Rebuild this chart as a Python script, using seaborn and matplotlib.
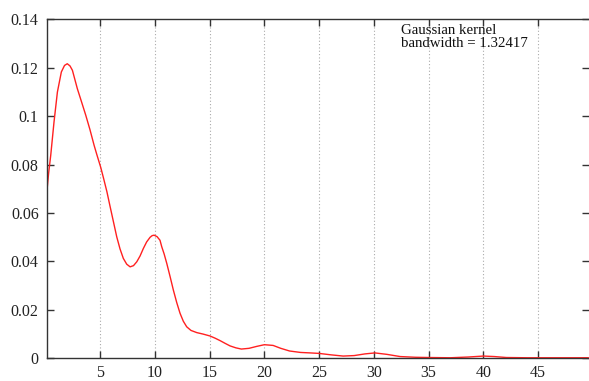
import matplotlib
matplotlib.use("Agg")
import matplotlib.pyplot as plt
import seaborn as sns
import pandas as pd

# density curve
x_vals = [0.15, 0.3, 0.49, 0.79, 1.10, 1.46, 1.75, 2.0, 2.25, 2.47, 2.92, 3.3, 3.69, 4.07, 4.45, 4.69, 5.06, 5.30, 5.62, 5.91, 6.22, 6.52, 6.82, 7.12, 7.43, 7.74, 8.05, 8.35, 8.65, 8.95, 9.25, 9.56, 9.75, 9.93, 10.2, 10.47, 10.63, 10.85, 11.09, 11.39, 11.69, 12.0, 12.30, 12.6, 12.91, 13.3, 13.83, 14.4, 15.04, 15.5, 15.95, 16.4, 16.87, 17.4, 17.9, 18.6, 19.3, 20.0, 20.8, 21.5, 22.3, 23.3, 24.2, 25.0, 26.1, 27.2, 28.2, 29.2, 30.1, 31.2, 32.4, 33.8, 35.0, 37.0, 38.6, 40.0, 41.0, 42.1, 44.0, 46.0, 47.0, 48.5, 49.6]
y_vals = [0.0694, 0.0765, 0.0838, 0.0976, 0.1100, 0.1183, 0.1210, 0.1217, 0.1208, 0.1190, 0.1114, 0.1060, 0.1004, 0.0945, 0.0880, 0.0843, 0.0788, 0.0746, 0.0688, 0.0627, 0.0563, 0.0501, 0.0451, 0.0412, 0.0388, 0.0377, 0.0382, 0.0398, 0.0422, 0.0453, 0.0480, 0.0499, 0.0506, 0.0508, 0.0502, 0.0487, 0.0460, 0.0430, 0.0391, 0.0337, 0.0281, 0.0229, 0.0185, 0.0152, 0.0129, 0.0114, 0.0105, 0.0099, 0.0091, 0.0082, 0.0072, 0.0061, 0.0050, 0.0042, 0.0037, 0.0040, 0.0048, 0.0055, 0.0052, 0.0040, 0.0029, 0.0023, 0.0021, 0.0019, 0.0013, 0.0008, 0.0010, 0.0017, 0.0021, 0.0015, 0.0006, 0.0003, 0.0002, 0.0001, 0.0004, 0.0008, 0.0006, 0.0002, 0.0001, 0.0001, 0.0001, 0.0001, 0.0001]

x_ticks = [5, 10, 15, 20, 25, 30, 35, 40, 45]
y_ticks = [0, 0.02, 0.04, 0.06, 0.08, 0.1, 0.12, 0.14]
y_tick_labels = ["0", "0.02", "0.04", "0.06", "0.08", "0.1", "0.12", "0.14"]
annotation_lines = ["Gaussian kernel", "bandwidth = 1.32417"]

sns.set_style("white")
plt.rcParams["font.family"] = ["Liberation Serif", "DejaVu Serif"]

fig = plt.figure(figsize=(5.89, 3.81), dpi=100)
ax = fig.add_axes([47 / 589, 1 - 358 / 381, 1 - 47 / 589, (358 - 19.5) / 381])

df = pd.DataFrame({"x": x_vals, "y": y_vals})
sns.lineplot(data=df, x="x", y="y", ax=ax, color="#ff2020", linewidth=1.0, sort=False)

ax.set_xlim(0.15, 49.65)
ax.set_ylim(0, 0.14)
ax.set_xticks(x_ticks)
ax.set_xticklabels([str(t) for t in x_ticks])
ax.set_yticks(y_ticks)
ax.set_yticklabels(y_tick_labels)
ax.set_xlabel("")
ax.set_ylabel("")

for t in x_ticks:
    ax.axvline(t, color="#aaaaaa", linestyle=(0, (1, 2)), linewidth=0.8, zorder=0)

for side in ["left", "top", "bottom"]:
    ax.spines[side].set_visible(True)
    ax.spines[side].set_color("#333333")
    ax.spines[side].set_linewidth(1.0)
ax.spines["right"].set_visible(False)

ax.tick_params(axis="both", direction="in", length=5, width=1.0, color="#333333",
               labelsize=11.5, labelcolor="#222222",
               top=True, right=True, bottom=True, left=True)
ax.tick_params(axis="x", pad=5)
ax.tick_params(axis="y", pad=6)

for i, line in enumerate(annotation_lines):
    ax.text(401, 381 - (33.5 + 13.5 * i), line, transform=None, fontsize=10.7,
            va="baseline", ha="left", color="#111111")

fig.savefig("out.png", dpi=100)
